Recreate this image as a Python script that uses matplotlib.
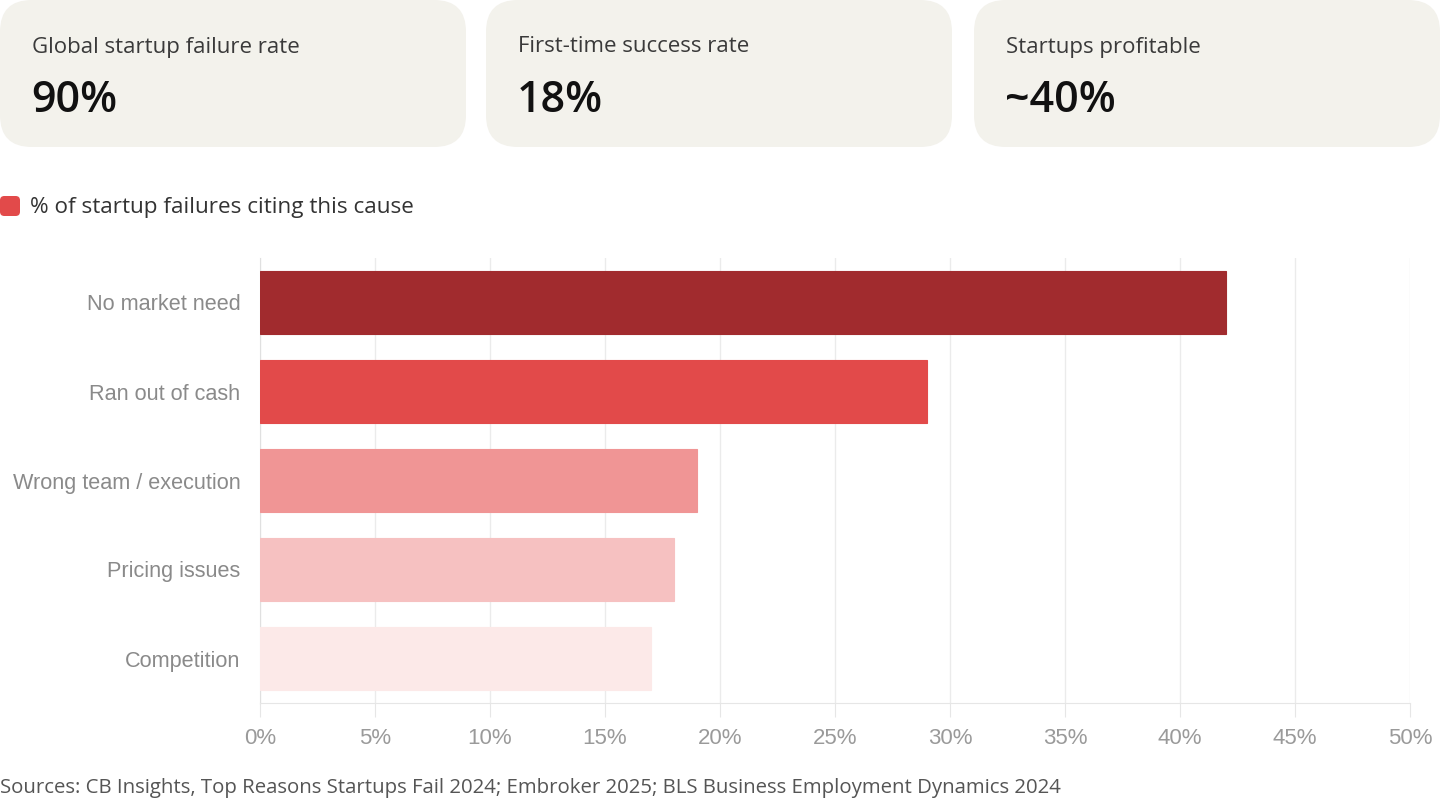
import matplotlib
matplotlib.use("Agg")
import matplotlib.pyplot as plt
from matplotlib.patches import FancyBboxPatch

# --- data ---
card_titles = ["Global startup failure rate", "First-time success rate", "Startups profitable"]
card_values = ["90%", "18%", "~40%"]

causes = ["No market need", "Ran out of cash", "Wrong team / execution", "Pricing issues", "Competition"]
shares = [42, 29, 19, 18, 17]
bar_colors = ["#a12b2e", "#e24a4a", "#f09595", "#f6c1c1", "#fce9e8"]

ticks = [0, 5, 10, 15, 20, 25, 30, 35, 40, 45, 50]
legend_label = "% of startup failures citing this cause"
source = "Sources: CB Insights, Top Reasons Startups Fail 2024; Embroker 2025; BLS Business Employment Dynamics 2024"

W, H = 1440, 800
fig = plt.figure(figsize=(W / 100, H / 100), dpi=100)
fig.patch.set_facecolor("white")

# --- stat cards ---
card_x = [0, 486, 974]
card_w = 466
for x0, title, val in zip(card_x, card_titles, card_values):
    box = FancyBboxPatch((x0 / W, 1 - 147 / H), card_w / W, 147 / H,
                         boxstyle="round,pad=0,rounding_size=0.022",
                         transform=fig.transFigure, facecolor="#f3f2ec",
                         edgecolor="none", mutation_aspect=W / H)
    fig.patches.append(box)
    fig.text((x0 + 32) / W, 1 - 47 / H, title, fontsize=16, color="#3a3a3a",
             family="Open Sans", va="center", ha="left")
    fig.text((x0 + 31) / W, 1 - 101 / H, val, fontsize=31, color="#111111",
             family="Open Sans", fontweight="semibold", va="center", ha="left")

# --- legend ---
fig.patches.append(FancyBboxPatch((0, 1 - 216 / H), 20 / W, 20 / H,
                                  boxstyle="round,pad=0,rounding_size=0.003",
                                  transform=fig.transFigure, facecolor="#e24a4a",
                                  edgecolor="none", mutation_aspect=W / H))
fig.text(30 / W, 1 - 207 / H, legend_label, fontsize=16.2, color="#333333",
         family="Open Sans", va="center", ha="left")

# --- bar chart ---
ax = fig.add_axes([260 / W, 1 - 703 / H, 1150 / W, 445 / H])
ypos = list(range(len(causes)))
ax.barh(ypos, shares, height=0.71, color=bar_colors, edgecolor=bar_colors,
        linewidth=0.8, zorder=3)
ax.set_ylim(len(causes) - 0.5, -0.5)
ax.set_xlim(0, 50)
ax.set_xticks(ticks)
ax.set_xticklabels([f"{t}%" for t in ticks], fontsize=16, color="#9a9a9a",
                   family="Liberation Sans")
ax.set_yticks(ypos)
ax.set_yticklabels(causes, fontsize=15.6, color="#8a8a8a", family="Liberation Sans")
ax.tick_params(axis="x", length=10, color="#e6e6e6", pad=8)
ax.tick_params(axis="y", length=0, pad=14)
ax.grid(axis="x", color="#ebebeb", linewidth=1, zorder=0)
for side in ["top", "right"]:
    ax.spines[side].set_visible(False)
ax.spines["left"].set_color("#e0e0e0")
ax.spines["bottom"].set_color("#e6e6e6")
ax.set_facecolor("white")

fig.text(0, 1 - 788 / H, source, fontsize=14.7, color="#555555",
         family="Open Sans", va="center", ha="left")

fig.savefig("out.png", dpi=100)
